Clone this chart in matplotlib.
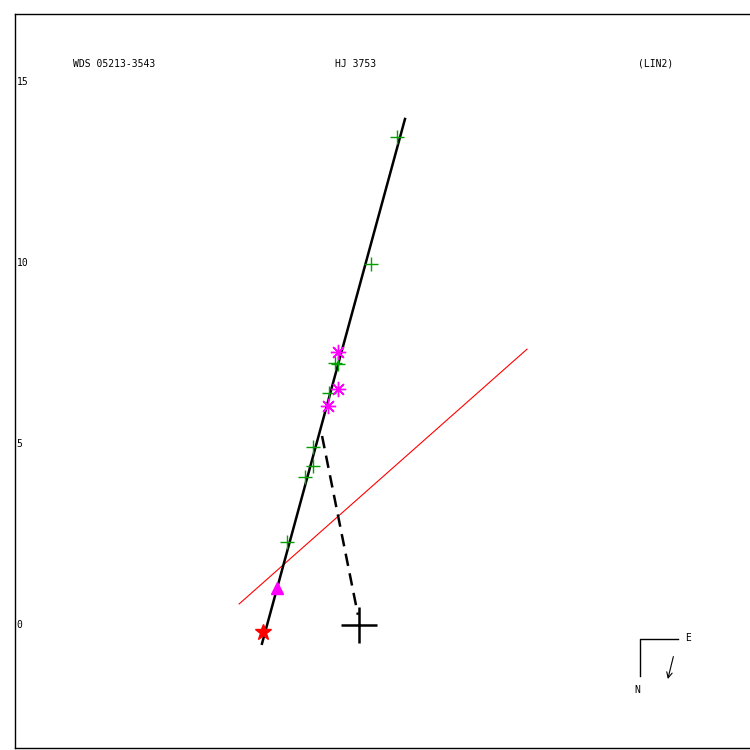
import numpy as np
import matplotlib
matplotlib.use('Agg')
import matplotlib.pyplot as plt

# measured positions (arcsec, scale of the plot)
plus_x = [1.05, 0.33, -0.66, -0.58, -0.83, -1.27, -1.27, -1.49, -1.99]
plus_y = [13.48, 9.97, 7.24, 7.21, 6.41, 4.92, 4.39, 4.09, 2.29]
ast_x = [-0.58, -0.58, -0.86]
ast_y = [7.54, 6.52, 6.05]
tri_x, tri_y = [-2.27], [1.02]
star_x, star_y = [-2.65], [-0.19]

fit_x = [-2.68, 1.27]
fit_y = [-0.52, 13.98]
red_x = [-3.31, 4.64]
red_y = [0.58, 7.62]
dash_x = [-1.02, -0.03]
dash_y = [5.22, 0.28]

yticks = [0, 5, 10, 15]
title_left = "WDS 05213-3543"
title_mid = "HJ 3753"
title_right = "(LIN2)"

fig = plt.figure(figsize=(7.5, 7.5), dpi=100)
ax = fig.add_axes([0.02, 0.0027, 0.983, 0.9786])
ax.set_xlim(-9.50, 10.86)
ax.set_ylim(-3.40, 16.88)
ax.set_xticks([])
ax.set_yticks([])
for s in ax.spines.values():
    s.set_linewidth(1.0)

mono = 'DejaVu Sans Mono'
for t in yticks:
    ax.text(-9.45, t, str(t), fontsize=7, family=mono, va='center', ha='left')

ax.text(-7.9, 15.5, title_left, fontsize=7, family=mono, va='center', ha='left')
ax.text(-0.65, 15.5, title_mid, fontsize=7, family=mono, va='center', ha='left')
ax.text(7.70, 15.5, title_right, fontsize=7, family=mono, va='center', ha='left')

ax.plot(red_x, red_y, color='red', lw=0.8)
ax.plot(fit_x, fit_y, color='black', lw=1.8)
ax.plot(dash_x, dash_y, color='black', lw=1.8, ls=(0, (5, 3)))

# primary
ax.plot([0], [0], marker='+', color='black', ms=26, mew=1.8)

ax.plot(plus_x, plus_y, '+', color='#00a000', ms=10.5, mew=1.0, ls='none')
ax.plot(ast_x, ast_y, marker=(8, 2, 0), color='magenta', ms=11, mew=1.0, ls='none')
ax.plot(ast_x, ast_y, 'o', color='magenta', ms=2.5, ls='none')
ax.plot(tri_x, tri_y, '^', color='magenta', ms=8, ls='none')
ax.plot(star_x, star_y, '*', color='red', ms=12, ls='none')

# compass
ax.plot([8.81, 7.76, 7.76], [-0.39, -0.39, -1.41], color='black', lw=1.0)
ax.text(9.09, -0.36, 'E', fontsize=7, family=mono, va='center', ha='center')
ax.text(7.68, -1.80, 'N', fontsize=7, family=mono, va='center', ha='center')
ax.annotate('', xy=(8.51, -1.57), xytext=(8.70, -0.80),
            arrowprops=dict(arrowstyle='->', lw=0.8, color='black'))

plt.savefig('out.png', dpi=100)
